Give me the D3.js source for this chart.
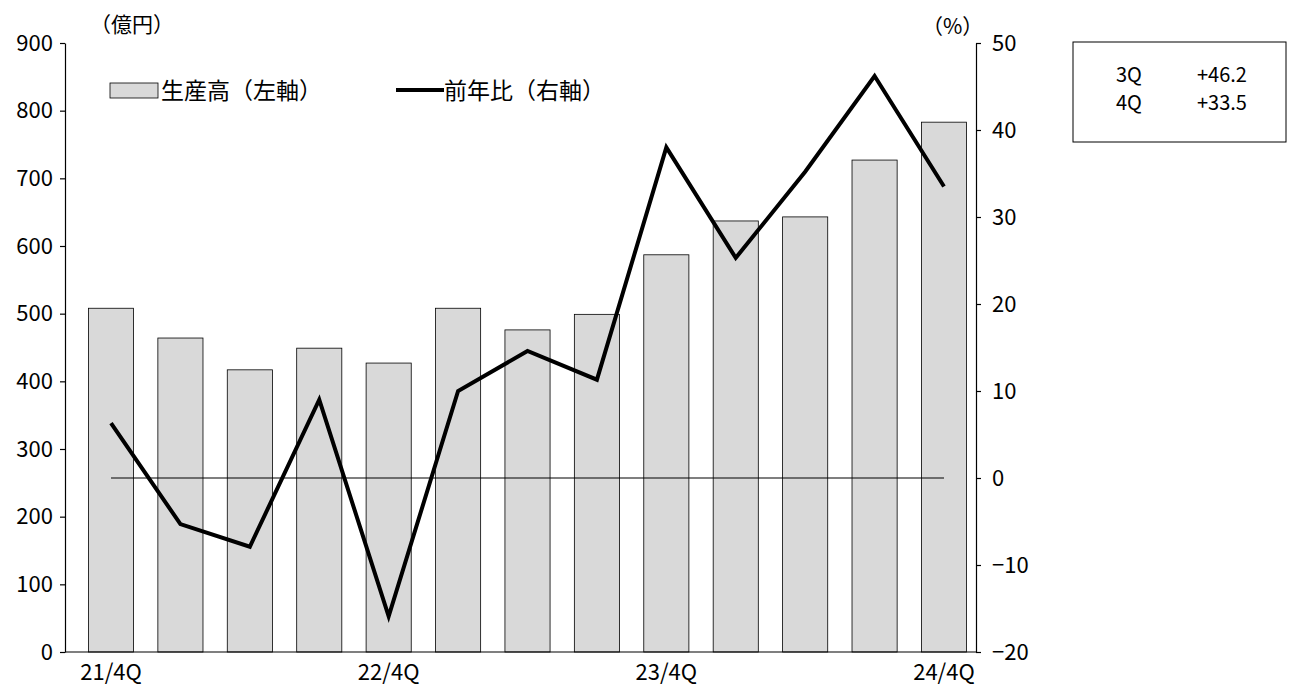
<!DOCTYPE html>
<html><head><meta charset="utf-8">
<script src="https://cdn.jsdelivr.net/npm/d3@7"></script>
<style>body{margin:0;background:#fff;font-family:"Noto Sans CJK JP",sans-serif;}</style>
</head><body><svg id="chart" width="1296" height="697"></svg>
<script>
const categories = ["21/4Q","22/1Q","22/2Q","22/3Q","22/4Q","23/1Q","23/2Q","23/3Q","23/4Q","24/1Q","24/2Q","24/3Q","24/4Q"];
const output = [508, 464, 417, 449, 427, 508, 476, 499, 587, 637, 643, 727, 783];
const yoy = [6.3, -5.3, -7.9, 9.0, -15.9, 10.0, 14.6, 11.3, 38.0, 25.3, 35.2, 46.2, 33.5];
const xLabels = ["21/4Q","22/4Q","23/4Q","24/4Q"];
const leftTicks = [0,100,200,300,400,500,600,700,800,900];
const rightTicks = [-20,-10,0,10,20,30,40,50];

const svg = d3.select("#chart");
const L = 65, R = 976, T = 43, B = 652;
const x = d3.scaleBand().domain(categories).range([76.3, 978.7]).paddingInner(0.35).paddingOuter(0.175);
const yL = d3.scaleLinear().domain([0, 900]).range([B, T]);
const yR = d3.scaleLinear().domain([-20, 50]).range([B, T]);

svg.selectAll(".bar").data(output).enter().append("rect")
  .attr("x", (d, i) => x(categories[i])).attr("width", x.bandwidth())
  .attr("y", d => yL(d)).attr("height", d => B - yL(d))
  .attr("fill", "#d9d9d9").attr("stroke", "#000").attr("stroke-width", 0.8);

svg.append("line").attr("x1", x(categories[0]) + x.bandwidth()/2).attr("x2", x(categories[12]) + x.bandwidth()/2)
  .attr("y1", yR(0)).attr("y2", yR(0)).attr("stroke", "#000").attr("stroke-width", 1.2);

const line = d3.line().x((d, i) => x(categories[i]) + x.bandwidth()/2).y(d => yR(d));
svg.append("path").datum(yoy).attr("d", line).attr("fill", "none")
  .attr("stroke", "#000").attr("stroke-width", 4).attr("stroke-linejoin", "miter");

const fs = "22px";
const la = svg.append("g").attr("transform", `translate(${L},0)`)
  .call(d3.axisLeft(yL).tickValues(leftTicks).tickSize(5).tickSizeOuter(0));
const ra = svg.append("g").attr("transform", `translate(${R},0)`)
  .call(d3.axisRight(yR).tickValues(rightTicks).tickFormat(d => d < 0 ? "\u2212" + (-d) : d).tickSize(5).tickSizeOuter(0));
const xa = svg.append("g").attr("transform", `translate(0,${B})`)
  .call(d3.axisBottom(x).tickValues(xLabels).tickSize(0).tickPadding(12));
[la, ra, xa].forEach(g => {
  g.selectAll("text").attr("font-size", fs).attr("fill", "#000").attr("font-family", "Noto Sans CJK JP");
  g.selectAll("path,line").attr("stroke", "#000").attr("stroke-width", 1.2);
});
la.selectAll("text").attr("dx", "-4");
ra.selectAll("text").attr("dx", "8");
xa.select(".domain").attr("d", `M${L},0H${R}`);

svg.append("text").attr("x", 90).attr("y", 32).attr("font-size", "21px").text("（億円）");
svg.append("text").attr("x", 922).attr("y", 34).attr("font-size", "21px").text("（%）");

// legend
svg.append("rect").attr("x", 110).attr("y", 83).attr("width", 48).attr("height", 15)
  .attr("fill", "#d9d9d9").attr("stroke", "#000").attr("stroke-width", 0.8);
svg.append("text").attr("x", 161).attr("y", 99).attr("font-size", "23px").text("生産高（左軸）");
svg.append("line").attr("x1", 396).attr("x2", 444).attr("y1", 90).attr("y2", 90).attr("stroke", "#000").attr("stroke-width", 4);
svg.append("text").attr("x", 444).attr("y", 99).attr("font-size", "23px").text("前年比（右軸）");

// annotation box
svg.append("rect").attr("x", 1073).attr("y", 42).attr("width", 213).attr("height", 100)
  .attr("fill", "#fff").attr("stroke", "#000").attr("stroke-width", 1);
[["3Q","+46.2"],["4Q","+33.5"]].forEach((r, i) => {
  svg.append("text").attr("x", 1116).attr("y", 82 + i*28).attr("font-size", "20px").text(r[0]);
  svg.append("text").attr("x", 1197).attr("y", 82 + i*28).attr("font-size", "20px").text(r[1]);
});
</script></body></html>
